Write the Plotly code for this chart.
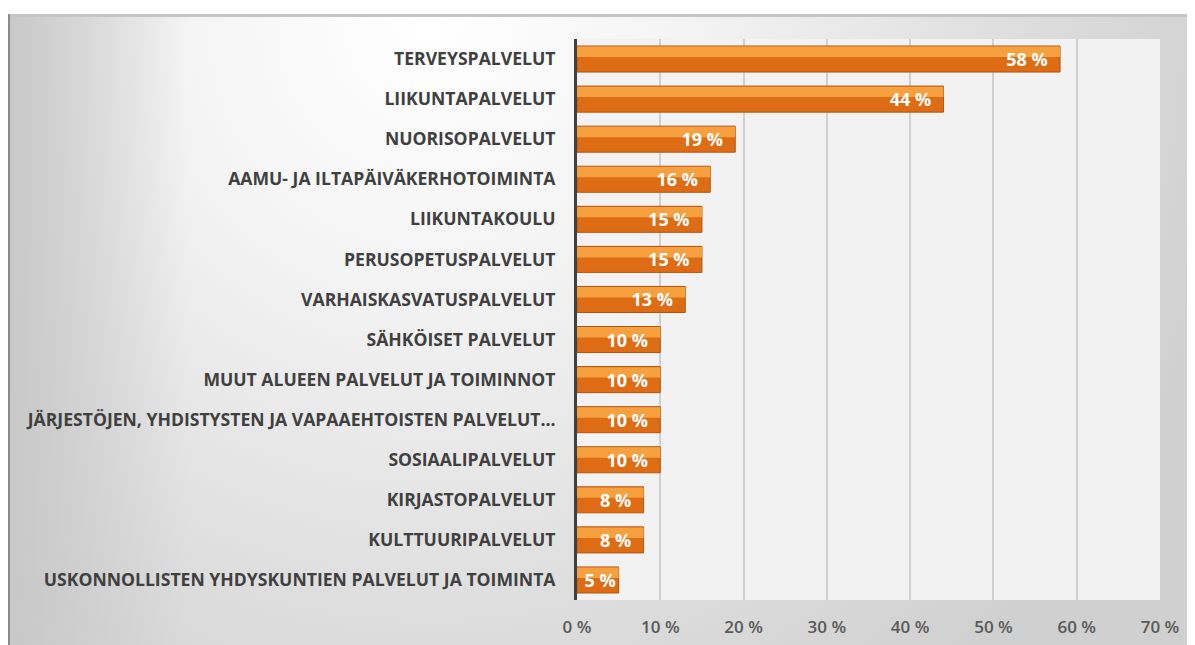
import base64
import plotly.graph_objects as go

categories = [
    "TERVEYSPALVELUT",
    "LIIKUNTAPALVELUT",
    "NUORISOPALVELUT",
    "AAMU- JA ILTAPÄIVÄKERHOTOIMINTA",
    "LIIKUNTAKOULU",
    "PERUSOPETUSPALVELUT",
    "VARHAISKASVATUSPALVELUT",
    "SÄHKÖISET PALVELUT",
    "MUUT ALUEEN PALVELUT JA TOIMINNOT",
    "JÄRJESTÖJEN, YHDISTYSTEN JA VAPAAEHTOISTEN PALVELUT...",
    "SOSIAALIPALVELUT",
    "KIRJASTOPALVELUT",
    "KULTTUURIPALVELUT",
    "USKONNOLLISTEN YHDYSKUNTIEN PALVELUT JA TOIMINTA",
]
values = [58, 44, 19, 16, 15, 15, 13, 10, 10, 10, 10, 8, 8, 5]
labels = [f"{v} %" for v in values]
tick_vals = [0, 10, 20, 30, 40, 50, 60, 70]
tick_text = [f"{t} %" for t in tick_vals]

# page body has an 8px margin, so the figure is sized to fit the window
W, H = 1187, 637
ML, MR, MT, MB = 569, 35, 31, 45
pw, ph = W - ML - MR, H - MT - MB

svg = f'''<svg xmlns="http://www.w3.org/2000/svg" width="{W}" height="{H}" viewBox="0 0 {W} {H}" preserveAspectRatio="none">
<defs>
<radialGradient id="g" gradientUnits="userSpaceOnUse" cx="420" cy="20" r="830">
<stop offset="0" stop-color="#ffffff"/>
<stop offset="0.3" stop-color="#f4f4f4"/>
<stop offset="0.7" stop-color="#dedede"/>
<stop offset="1" stop-color="#d0d0d0"/>
</radialGradient>
<linearGradient id="l" x1="0" x2="1" y1="0" y2="0">
<stop offset="0" stop-color="#c8c8c8" stop-opacity="1"/>
<stop offset="1" stop-color="#c8c8c8" stop-opacity="0"/>
</linearGradient>
</defs>
<rect x="0" y="0" width="{W}" height="{H}" fill="#ffffff"/>
<rect x="0" y="6" width="{W}" height="{H-6}" fill="url(#g)"/>
<rect x="0" y="6" width="180" height="{H-6}" fill="url(#l)"/>
<rect x="0" y="6" width="{W}" height="3" fill="#c6c6c6"/>
<rect x="0" y="6" width="2" height="{H-6}" fill="#8a8a8a"/>
</svg>'''
src = "data:image/svg+xml;base64," + base64.b64encode(svg.encode()).decode()

# right padding for labels that fit inside the bar
templates = ["%{text}\u00a0\u00a0" if v >= 8 else "%{text}" for v in values]

fig = go.Figure()

# base (darker) bar
fig.add_trace(go.Bar(
    y=categories, x=values, orientation="h", width=0.65,
    marker=dict(color="#de6c14", line=dict(color="#b25610", width=1)),
    hoverinfo="skip", showlegend=False,
))
# top highlight stripe
fig.add_trace(go.Bar(
    y=categories, x=values, orientation="h", width=0.26, offset=-0.31,
    marker=dict(color="#f7a040", line=dict(width=0)),
    hoverinfo="skip", showlegend=False,
))
# transparent bar carrying the value labels
fig.add_trace(go.Bar(
    y=categories, x=values, orientation="h", width=0.65,
    marker=dict(color="rgba(0,0,0,0)", line=dict(width=0)),
    text=labels, texttemplate=templates, textposition="inside",
    insidetextanchor="end", constraintext="none",
    textfont=dict(family="Open Sans", size=18, color="#ffffff", weight="bold"),
    hoverinfo="skip", showlegend=False,
))

fig.update_layout(
    width=W, height=H,
    barmode="overlay",
    margin=dict(l=ML, r=MR, t=MT, b=MB, autoexpand=False),
    paper_bgcolor="#ffffff",
    plot_bgcolor="rgba(0,0,0,0)",
    images=[dict(source=src, xref="paper", yref="paper",
                 x=-ML / pw, y=1 + MT / ph, sizex=W / pw, sizey=H / ph,
                 xanchor="left", yanchor="top", sizing="stretch", layer="below")],
    shapes=[dict(type="rect", xref="paper", yref="paper", x0=0, x1=1, y0=0, y1=1,
                 fillcolor="#f2f2f2", line=dict(width=0), layer="below")],
    xaxis=dict(
        range=[0, 70], tickvals=tick_vals, ticktext=tick_text,
        showgrid=True, gridcolor="#d0d0d0", gridwidth=1.5,
        zeroline=False, showline=False, automargin=False,
        ticks="outside", ticklen=12, tickcolor="rgba(0,0,0,0)",
        tickfont=dict(family="Open Sans", size=17, color="#595959", weight=600),
    ),
    yaxis=dict(
        autorange="reversed", showgrid=False, zeroline=False, automargin=False,
        showline=True, linecolor="#404040", linewidth=3,
        ticks="outside", ticklen=15, tickcolor="rgba(0,0,0,0)",
        tickfont=dict(family="Open Sans", size=17.6, color="#404040", weight="bold"),
    ),
)

fig.write_html("out.html")
